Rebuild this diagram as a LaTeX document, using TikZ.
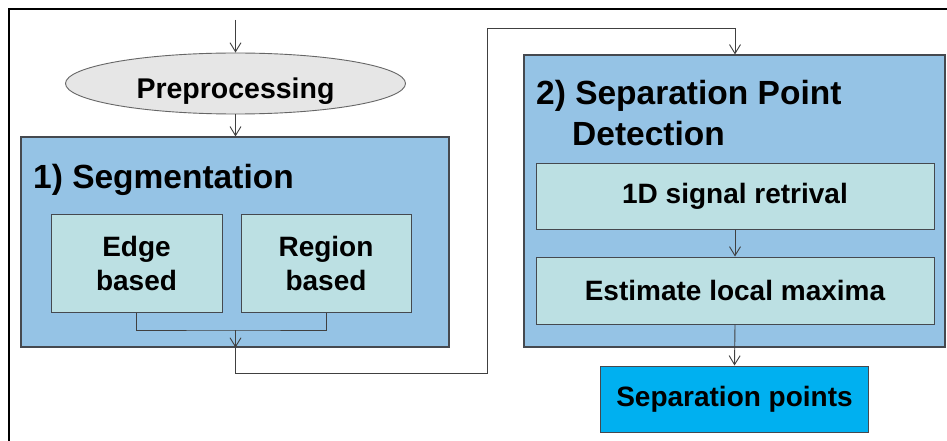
\documentclass[tikz,border=0pt]{standalone}
\usepackage{fontspec}
\setmainfont{Liberation Sans}
\usetikzlibrary{arrows.meta,shapes.geometric}
\definecolor{outerblue}{HTML}{95C3E5}
\definecolor{innerbox}{HTML}{BCE0E3}
\definecolor{ellgray}{HTML}{E6E6E6}
\definecolor{brdr}{HTML}{45494F}
\definecolor{brightblue}{HTML}{00B0F0}
\tikzset{
  outerbox/.style={draw=brdr, line width=1.2pt, fill=outerblue, inner sep=0pt},
  subbox/.style={draw=brdr, line width=1pt, fill=innerbox, inner sep=0pt, align=center, font=\bfseries\fontsize{28}{34}\selectfont},
  resbox/.style={draw=brdr, line width=1pt, fill=brightblue, inner sep=0pt, font=\bfseries\fontsize{28}{34}\selectfont},
  titletext/.style={inner sep=0pt, font=\bfseries\fontsize{33.5}{40}\selectfont},
  conn/.style={draw=black!75, line width=0.9pt},
  arr/.style={conn, -{Straight Barb[length=9pt,width=11pt,line width=0.9pt]}},
}
\begin{document}
\begin{tikzpicture}[x=1pt,y=-1pt]
\useasboundingbox (0,0) rectangle (947,441);
\fill[white] (0,0) rectangle (947,441);
% frame
\draw[black, line width=1.3pt] (9,441) -- (9,9) -- (947,9);

% preprocessing ellipse
\node[ellipse, draw=black!60, line width=0.9pt, fill=ellgray, minimum width=340pt, minimum height=61pt, inner sep=0pt, font=\bfseries\fontsize{28.5}{34}\selectfont] (pre) at (235.5,83.5) {\smash{\raisebox{-15pt}{Preprocessing}}};
\coordinate (start) at (235.5,20);

% segmentation box
\node[outerbox, minimum width=428pt, minimum height=210pt] (seg) at (235,242) {};
\node[titletext, anchor=base west] (segt) at (33,188) {1) Segmentation};
\node[subbox, minimum width=171pt, minimum height=98pt] (edge) at (136.5,263) {Edge\\based};
\node[subbox, minimum width=170pt, minimum height=98pt] (region) at (326,263) {Region\\based};
\coordinate (join) at (235.5,330);

% separation point detection box
\node[outerbox, minimum width=421pt, minimum height=292pt] (sep) at (734.5,201) {};
\node[titletext, anchor=base west] (sept1) at (536,105) {2) Separation Point};
\node[titletext, anchor=base west] (sept2) at (572,145) {Detection};
\node[subbox, minimum width=398pt, minimum height=66pt] (sig) at (735,196) {1D signal retrival};
\node[subbox, minimum width=398pt, minimum height=67pt] (est) at (735,290.5) {Estimate local maxima};
\node[resbox, minimum width=268pt, minimum height=66pt] (res) at (734.5,399) {Separation points};

% waypoints of the long connector
\coordinate (w1) at (235.5,373);
\coordinate (w2) at (487,373);
\coordinate (w3) at (487,28);
\coordinate (w4) at (735,28);

% connectors
\draw[arr] (start) -- (pre.north);
\draw[arr] (pre.south) -- (pre.south |- seg.north);
\draw[conn] (edge.south) |- (join) -| (region.south);
\draw[arr] (join) -- (join |- seg.south);
\draw[conn] (join |- seg.south) -- (w1) -- (w2) -- (w3) -- (w4);
\draw[arr] (w4) -- (w4 |- sep.north);
\draw[arr] (sig.south) -- (est.north);
\draw[arr] (est.south) -- (res.north);
\end{tikzpicture}
\end{document}
